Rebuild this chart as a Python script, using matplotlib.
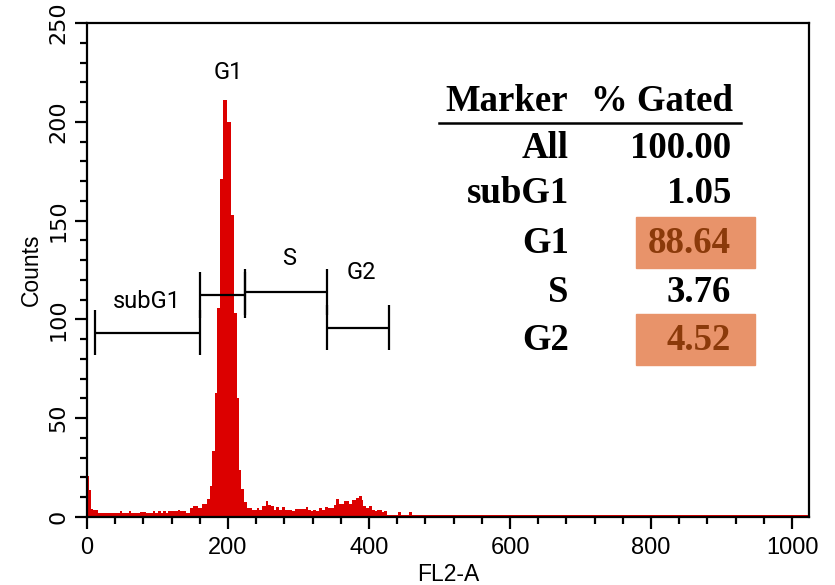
import matplotlib
matplotlib.use("Agg")
import matplotlib.pyplot as plt
from matplotlib.ticker import MultipleLocator

# ---------------- data ----------------
bin_edges = [0, 3, 5.5, 8.5, 15.6, 47, 50, 60, 63, 75, 84, 94, 96, 101, 105, 108, 112, 115,
             129, 131.5, 134, 141, 145.6, 150.4, 157.4, 163.5, 170.7, 174, 177.8, 181.6, 184.1,
             188.7, 192.9, 199, 203.8, 208, 212.3, 215.6, 218.9, 222.7, 227.4, 234.5, 241.6,
             244, 248.7, 253.4, 257.2, 260.5, 265.2, 267.6, 272.3, 277, 280.9, 291.2, 294.5,
             310.2, 313.9, 317.2, 320.6, 324.3, 329, 332.8, 337.6, 342.3, 350.4, 353.7, 357.4,
             364.5, 371.6, 376.4, 381.1, 385.8, 389.6, 391.5, 395.3, 400, 404.7, 408.5, 411.8,
             418.9, 421.3, 426, 441.6, 444.9, 456.7, 460.5, 1024]
bin_counts = [21, 13.5, 4.2, 3.4, 2.2, 2.9, 2.2, 2.9, 2.2, 2.7, 2.2, 2.9, 2.2, 2.9, 2.2, 2.9, 2.2,
              2.9, 3.7, 2.9, 2.9, 2.2, 4.6, 5.4, 4.6, 6.5, 9.1, 15.8, 33.6, 63, 106,
              171, 211, 200, 153, 103, 60, 24, 14, 7.4, 4.6, 3.7, 4.6,
              3.7, 5.4, 7.9, 6.2, 5.4, 3.7, 5.1, 3.7, 5.1, 3.7, 2.9, 3.8,
              5.1, 3.7, 2.9, 3.7, 2.9, 4.6, 3.7, 5.1, 4.6, 6.2, 9.3,
              6.7, 7.9, 6.7, 8.4, 9.6, 10.6, 8.4, 5.4, 4.6, 5.4, 3.7, 2.9,
              3.7, 2.5, 2.9, 1.2, 2.5, 1.2, 2.5, 1.0]

gate_names = ["subG1", "G1", "S", "G2"]
gate_start = [12, 160, 224, 341]
gate_end = [160, 224, 341, 428]
gate_level = [93.3, 112.4, 113.8, 95.8]
gate_label_x = [85, 201, 286, 389]
gate_label_y = [109, 225, 130.6, 123.5]

table_markers = ["All", "subG1", "G1", "S", "G2"]
table_gated = ["100.00", "1.05", "88.64", "3.76", "4.52"]
table_highlight = [False, False, True, False, True]

x_ticks = [0, 200, 400, 600, 800, 1000]
y_ticks = [0, 50, 100, 150, 200, 250]

# ---------------- figure ----------------
W, H = 835, 585
fig = plt.figure(figsize=(W / 100, H / 100), dpi=100)
fig.patch.set_facecolor("white")

def fx(px):
    return px / W

def fy(py):
    return 1 - py / H

ax_l, ax_r, ax_t, ax_b = 87, 809, 23, 517
ax = fig.add_axes([fx(ax_l), fy(ax_b), (ax_r - ax_l) / W, (ax_b - ax_t) / H])

red = "#dc0000"
# outline of the histogram as one closed step polygon
poly_x = [bin_edges[0]]
poly_y = [0]
for i, c in enumerate(bin_counts):
    poly_x += [bin_edges[i], bin_edges[i + 1]]
    poly_y += [c, c]
poly_x.append(bin_edges[-1])
poly_y.append(0)
hist_patch = ax.fill(poly_x, poly_y, facecolor=red, edgecolor="none", linewidth=0)[0]
hist_patch.set_antialiased(False)

ax.set_xlim(0, 1024)
ax.set_ylim(0, 250)

# gate markers
tick_half = 11.5
for name, x0, x1, yv, lx, ly in zip(gate_names, gate_start, gate_end, gate_level,
                                    gate_label_x, gate_label_y):
    ax.plot([x0, x1], [yv, yv], color="black", lw=1.6, solid_capstyle="butt")
    for xv in (x0, x1):
        ax.plot([xv, xv], [yv - tick_half, yv + tick_half], color="black", lw=1.6,
                solid_capstyle="butt")
    ax.text(lx, ly, name, ha="center", va="center", fontsize=17, family="Roboto")

# axes styling
for s in ax.spines.values():
    s.set_linewidth(1.6)
ax.set_xticks(x_ticks)
ax.set_yticks(y_ticks)
ax.xaxis.set_minor_locator(MultipleLocator(40))
ax.yaxis.set_minor_locator(MultipleLocator(10))
ax.tick_params(which="major", direction="out", length=8.5, width=1.6)
ax.tick_params(which="minor", direction="out", length=5, width=1.6)
ax.tick_params(axis="x", labelsize=17, pad=6)
ax.tick_params(axis="y", labelsize=16, pad=5)
for lab in ax.get_xticklabels():
    lab.set_family("Liberation Sans")
for lab in ax.get_yticklabels():
    lab.set_rotation(90)
    lab.set_va("center")
    lab.set_family("DejaVu Sans")

ax.set_xlabel("FL2-A", fontsize=16.5, family="Liberation Sans", labelpad=2.5)
ax.set_ylabel("Counts", fontsize=16.5, family="Liberation Sans", labelpad=4)

# statistics table
tfont = dict(family="Liberation Serif", weight="bold", fontsize=26.5)
fig.text(fx(568), fy(101), "Marker", ha="right", va="center", **tfont)
fig.text(fx(733), fy(101), "% Gated", ha="right", va="center", **tfont)
fig.add_artist(plt.Line2D([fx(439), fx(741)], [fy(123), fy(123)], color="black", lw=1.8))

row_y = [148, 194, 243, 292, 340]
box_color = "#e8936a"
hi_text = "#8b3a0a"
for m, g, hl, yy in zip(table_markers, table_gated, table_highlight, row_y):
    fig.text(fx(569), fy(yy), m, ha="right", va="center", **tfont)
    if hl:
        fig.add_artist(plt.Rectangle((fx(636), fy(yy + 25)), (755 - 636) / W, 51 / H,
                                     transform=fig.transFigure, color=box_color, zorder=0.5))
    fig.text(fx(731), fy(yy), g, ha="right", va="center",
             color=hi_text if hl else "black", **tfont)

fig.savefig("out.png", dpi=100)
